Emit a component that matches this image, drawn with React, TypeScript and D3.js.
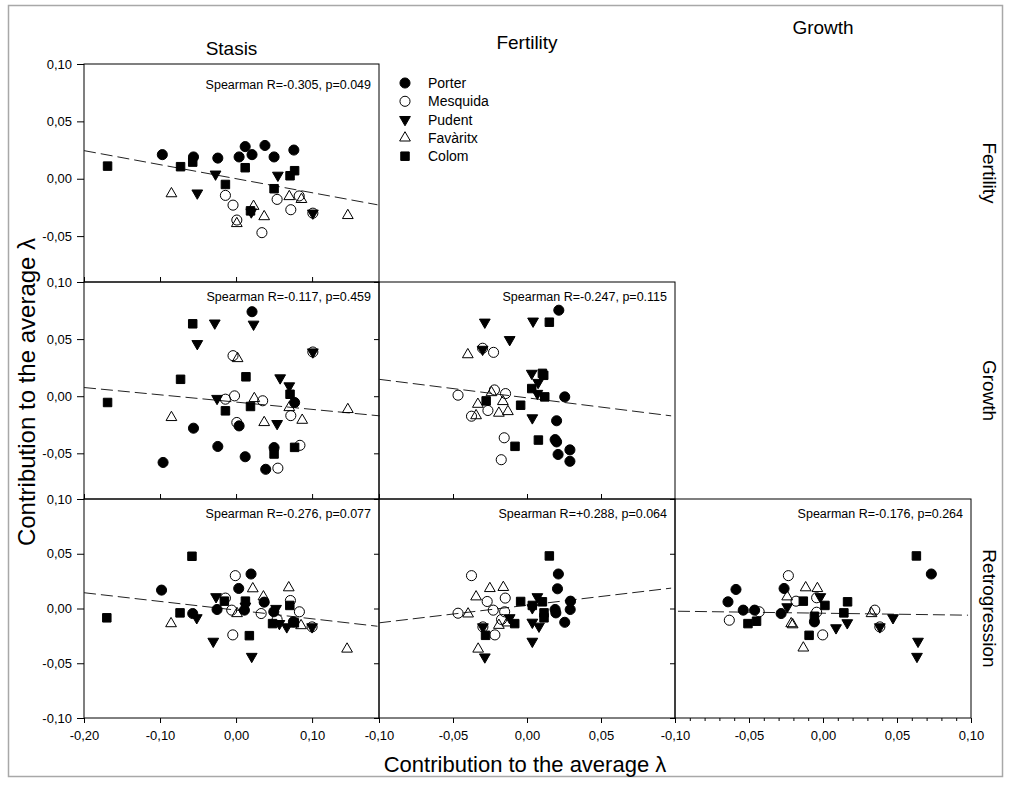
import * as d3 from "d3";
import React, { useRef, useEffect } from "react";

const width = 1009;
const height = 787;
const font = "'Liberation Sans', Arial, Helvetica, sans-serif";

const species = ["Porter", "Mesquida", "Pudent", "Favàritx", "Colom"];
const rowNames = ["Fertility", "Growth", "Retrogression"];
const colNames = ["Stasis", "Fertility", "Growth"];
const axisTitle = "Contribution to the average λ";

// tick values per column (x) and row (y)
const xTicksStasis = [-0.2, -0.1, 0, 0.1];
const xTicksFertility = [-0.1, -0.05, 0, 0.05];
const xTicksGrowth = [-0.1, -0.05, 0, 0.05, 0.1];
const yTicksTop = [0.1, 0.05, 0, -0.05];
const yTicksBottom = [0.1, 0.05, 0, -0.05, -0.1];

// points: [species index, x, y]
const stasisFertility = [
  [0, -0.097, 0.021], [0, -0.056, 0.019], [0, -0.024, 0.018], [0, 0.004, 0.019], [0, 0.012, 0.028],
  [0, 0.021, 0.021], [0, 0.038, 0.029], [0, 0.05, 0.019], [0, 0.076, 0.025],
  [1, -0.014, -0.0145], [1, -0.004, -0.023], [1, 0.001, -0.036], [1, 0.034, -0.047], [1, 0.054, -0.018],
  [1, 0.072, -0.027], [1, 0.083, -0.015], [1, 0.101, -0.03],
  [2, -0.027, 0.004], [2, -0.051, -0.0125], [2, 0.02, -0.029], [2, 0.055, 0.003], [2, 0.101, -0.03],
  [3, -0.085, -0.013], [3, 0.001, -0.039], [3, 0.023, -0.024], [3, 0.037, -0.033], [3, 0.07, -0.0155],
  [3, 0.086, -0.018], [3, 0.147, -0.032],
  [4, -0.169, 0.011], [4, -0.073, 0.0105], [4, -0.057, 0.0145], [4, -0.014, -0.005], [4, 0.012, 0.0096],
  [4, 0.019, -0.028], [4, 0.05, -0.0087], [4, 0.071, 0.0026], [4, 0.077, 0.007],
];

const stasisGrowth = [
  [0, 0.021, 0.074], [0, -0.096, -0.058], [0, -0.056, -0.028], [0, -0.024, -0.044], [0, 0.004, -0.026],
  [0, 0.012, -0.053], [0, 0.039, -0.064], [0, 0.05, -0.045], [0, 0.077, -0.0055],
  [1, -0.004, 0.0355], [1, -0.014, -0.0026], [1, -0.002, 0.0003], [1, 0.001, -0.023], [1, 0.035, -0.004],
  [1, 0.055, -0.063], [1, 0.072, -0.017], [1, 0.084, -0.043], [1, 0.101, 0.0387],
  [2, -0.028, 0.064], [2, -0.051, 0.046], [2, 0.023, 0.063], [2, -0.025, -0.002], [2, 0.058, 0.016],
  [2, 0.07, 0.009], [2, 0.054, -0.024], [2, 0.101, 0.0387],
  [3, -0.085, -0.0186], [3, 0.002, 0.033], [3, 0.024, -0.002], [3, 0.037, -0.023], [3, 0.07, -0.0099],
  [3, 0.087, -0.021], [3, 0.147, -0.0116],
  [4, -0.169, -0.0055], [4, -0.073, 0.0148], [4, -0.057, 0.0634], [4, -0.014, -0.0128], [4, 0.013, 0.017],
  [4, 0.019, -0.009], [4, 0.05, -0.0506], [4, 0.071, 0.0017], [4, 0.077, -0.0448],
];

const fertilityGrowth = [
  [0, 0.0215, 0.0753], [0, 0.0255, -0.0006], [0, 0.02, -0.0215], [0, 0.019, -0.038], [0, 0.02, -0.04],
  [0, 0.021, -0.051], [0, 0.029, -0.047], [0, 0.029, -0.057],
  [1, -0.0466, 0.0009], [1, -0.022, 0.0055], [1, -0.0145, 0.0023], [1, -0.0264, -0.0125], [1, -0.0375, -0.0175],
  [1, -0.0154, -0.0364], [1, -0.0174, -0.0556], [1, -0.0226, 0.0384], [1, -0.03, 0.042],
  [2, -0.0285, 0.0648], [2, 0.0041, 0.0657], [2, -0.0117, 0.0495], [2, -0.03, 0.041], [2, 0.0032, 0.02],
  [2, 0.0075, 0.012], [2, 0.007, 0.0024], [2, 0.0036, -0.019],
  [3, -0.04, 0.0364], [3, -0.0332, -0.007], [3, -0.0344, -0.017], [3, -0.024, 0.0032], [3, -0.0163, -0.0046],
  [3, -0.019, -0.0148], [3, -0.0129, -0.0134],
  [4, 0.0151, 0.0648], [4, 0.0104, 0.02], [4, 0.0113, 0.0183], [4, 0.0032, 0.0067], [4, 0.012, -0.0006],
  [4, -0.0276, -0.0041], [4, -0.0043, -0.0079], [4, 0.0077, -0.0384], [4, -0.0081, -0.0439],
];

const stasisRetrogression = [
  [0, -0.098, 0.0168], [0, -0.057, -0.0046], [0, -0.025, -0.0009], [0, 0.0035, 0.0183], [0, 0.0197, 0.0315],
  [0, 0.011, -0.0015], [0, 0.037, 0.0058], [0, 0.0496, -0.003], [0, 0.0754, -0.0122],
  [1, -0.001, 0.03], [1, -0.014, 0.0095], [1, -0.0057, -0.0015], [1, -0.0043, -0.0241], [1, 0.033, -0.0046],
  [1, 0.054, -0.01], [1, 0.0715, 0.0073], [1, 0.0833, -0.003], [1, 0.1, -0.0168],
  [2, -0.0263, 0.0107], [2, -0.0517, -0.0085], [2, -0.03, -0.03], [2, 0.0206, -0.0438], [2, 0.0123, 0.0021],
  [2, 0.0526, 0], [2, 0.057, -0.0138], [2, 0.0667, -0.0168], [2, 0.1, -0.0168],
  [3, -0.0855, -0.0138], [3, 0.0013, -0.0046], [3, 0.022, 0.0181], [3, 0.036, 0.0107], [3, 0.0693, 0.019],
  [3, 0.0855, -0.0156], [3, 0.146, -0.037],
  [4, -0.17, -0.0085], [4, -0.058, 0.0477], [4, -0.0737, -0.004], [4, -0.0154, 0.0067], [4, 0.0123, 0.0067],
  [4, 0.0175, -0.0248], [4, 0.048, -0.0138], [4, 0.0707, 0.0028], [4, 0.0767, -0.0131],
];

const fertilityRetrogression = [
  [0, 0.0212, 0.0315], [0, 0.0206, 0.018], [0, 0.0294, 0.0067], [0, 0.019, -0.0009], [0, 0.0195, -0.004],
  [0, 0.0292, -0.0009], [0, 0.0255, -0.0126],
  [1, -0.0375, 0.03], [1, -0.0466, -0.0043], [1, -0.0269, 0.0064], [1, -0.0147, 0.0095], [1, -0.0228, -0.0015],
  [1, -0.0151, -0.003], [1, -0.0172, -0.01], [1, -0.0217, -0.0241], [1, -0.0298, -0.0168],
  [2, -0.0285, -0.0443], [2, 0.007, 0.0107], [2, 0.0036, 0.0006], [2, -0.0117, -0.0085], [2, 0.0036, -0.0126],
  [2, 0.0081, -0.0162], [2, 0.0036, -0.03], [2, -0.0298, -0.0168],
  [3, -0.033, -0.037], [3, -0.0344, 0.0107], [3, -0.0398, -0.0049], [3, -0.0251, 0.0183], [3, -0.016, 0.0193],
  [3, -0.019, -0.0153], [3, -0.0133, -0.0131],
  [4, 0.0151, 0.048], [4, -0.0043, 0.0064], [4, 0.0036, 0.0028], [4, 0.0104, 0.0061], [4, 0.0115, -0.004],
  [4, 0.0115, -0.0085], [4, -0.0083, -0.0138], [4, -0.028, -0.0245],
];

const growthRetrogression = [
  [0, -0.0642, 0.0061], [0, -0.0588, 0.0174], [0, -0.0539, -0.0015], [0, -0.0462, -0.0015], [0, -0.0263, 0.0183],
  [0, -0.0283, -0.0046], [0, -0.0058, -0.0122], [0, 0.0732, 0.0315],
  [1, -0.0633, -0.0107], [1, -0.0431, -0.003], [1, -0.0234, 0.03], [1, -0.0182, 0.0067], [1, -0.0043, 0.0098],
  [1, -0.0043, -0.0034], [1, -0.0002, -0.0241], [1, 0.035, -0.0015], [1, 0.0384, -0.0168],
  [2, -0.0242, 0.0015], [2, -0.0018, 0.0107], [2, 0.0088, -0.0177], [2, 0.0164, -0.0131], [2, 0.0473, -0.0085],
  [2, 0.0642, -0.03], [2, 0.0635, -0.0438], [2, 0.0384, -0.0168],
  [3, -0.0242, 0.0107], [3, -0.0215, -0.0138], [3, -0.0205, -0.0148], [3, -0.0117, 0.019], [3, -0.0038, 0.0183],
  [3, -0.0133, -0.036], [3, 0.0328, -0.0046],
  [4, -0.0507, -0.0138], [4, -0.0449, -0.0116], [4, -0.0133, 0.0067], [4, 0.0013, 0.0028], [4, 0.0166, 0.0061],
  [4, 0.0141, -0.004], [4, -0.0094, -0.0245], [4, 0.0631, 0.048], [4, -0.0058, -0.0071],
];

// dashed fit lines: [x0, y0, x1, y1]
const trendStasisFertility = [-0.2, 0.0245, 0.186, -0.0227];
const trendStasisGrowth = [-0.2, 0.0076, 0.189, -0.0172];
const trendFertilityGrowth = [-0.1, 0.0148, 0.0974, -0.0172];
const trendStasisRetrogression = [-0.2, 0.0144, 0.186, -0.0162];
const trendFertilityRetrogression = [-0.1, -0.0131, 0.0974, 0.0186];
const trendGrowthRetrogression = [-0.098, -0.0025, 0.098, -0.0061];

const spearmanLabels = [
  "Spearman R=-0.305, p=0.049",
  "Spearman R=-0.117, p=0.459",
  "Spearman R=-0.247, p=0.115",
  "Spearman R=-0.276, p=0.077",
  "Spearman R=+0.288, p=0.064",
  "Spearman R=-0.176, p=0.264",
];

const locale = d3.formatLocale({ decimal: ",", thousands: ".", grouping: [3], currency: ["", ""], minus: "-" });
const fmt = locale.format(".2f");

const colScales = [
  d3.scaleLinear().domain([-0.2, 0.188]).range([84, 379]),
  d3.scaleLinear().domain([-0.1, 0.1]).range([379, 675]),
  d3.scaleLinear().domain([-0.1, 0.1]).range([675, 971]),
];
const rowScales = [
  d3.scaleLinear().domain([-0.09, 0.1]).range([282, 64]),
  d3.scaleLinear().domain([-0.09, 0.1]).range([499, 282]),
  d3.scaleLinear().domain([-0.1, 0.1]).range([718, 499]),
];
const colTicks = [xTicksStasis, xTicksFertility, xTicksGrowth];
const rowTicks = [yTicksTop, yTicksTop, yTicksBottom];

const panels = [
  { row: 0, col: 0, points: stasisFertility, trend: trendStasisFertility, label: spearmanLabels[0], labelDy: 25 },
  { row: 1, col: 0, points: stasisGrowth, trend: trendStasisGrowth, label: spearmanLabels[1], labelDy: 19 },
  { row: 1, col: 1, points: fertilityGrowth, trend: trendFertilityGrowth, label: spearmanLabels[2], labelDy: 19 },
  { row: 2, col: 0, points: stasisRetrogression, trend: trendStasisRetrogression, label: spearmanLabels[3], labelDy: 19 },
  { row: 2, col: 1, points: fertilityRetrogression, trend: trendFertilityRetrogression, label: spearmanLabels[4], labelDy: 19 },
  { row: 2, col: 2, points: growthRetrogression, trend: trendGrowthRetrogression, label: spearmanLabels[5], labelDy: 19 },
];

const markerPath = (s: number) => {
  if (s === 0 || s === 1) return d3.symbol(d3.symbolCircle, 80)();
  if (s === 2 || s === 3) return d3.symbol(d3.symbolTriangle, 50)();
  return d3.symbol(d3.symbolSquare, 72)();
};
const markerFill = (s: number) => (s === 1 || s === 3 ? "none" : "#000");
const markerRotate = (s: number) => (s === 2 ? " rotate(180)" : "");

function MatrixChart() {
  const ref = useRef<SVGSVGElement>(null);

  useEffect(() => {
    draw();
  }, []); // eslint-disable-line react-hooks/exhaustive-deps

  const draw = () => {
    const svg = d3.select(ref.current);
    svg.selectAll("*").remove();

    svg
      .append("rect")
      .attr("x", 8.5)
      .attr("y", 5.5)
      .attr("width", 994)
      .attr("height", 771)
      .attr("fill", "#fff")
      .attr("stroke", "#a8a8a8")
      .attr("stroke-width", 1.5);

    panels.forEach((p) => {
      const x = colScales[p.col];
      const y = rowScales[p.row];
      const [x0, x1] = x.range();
      const [y1, y0] = y.range();
      const g = svg.append("g");

      // left ticks
      const yAxis = d3
        .axisLeft(y)
        .tickValues(rowTicks[p.row])
        .tickSizeOuter(0)
        .tickSize(p.col === 0 ? 7 : 5)
        .tickPadding(5)
        .tickFormat((d) => (p.col === 0 ? fmt(d as number) : ""));
      const ya = g.append("g").attr("transform", `translate(${x0},0)`).call(yAxis);
      ya.select(".domain").remove();
      ya.selectAll("text").attr("font-size", 13).attr("font-family", font).attr("fill", "#000");

      // bottom ticks
      if (p.row === 2) {
        if (p.col === 2) {
          const minor = d3.range(-0.1, 0.1001, 0.01).map((v) => +v.toFixed(2));
          const ma = g
            .append("g")
            .attr("transform", `translate(0,${y1})`)
            .call(d3.axisBottom(x).tickValues(minor).tickSize(3).tickSizeOuter(0).tickFormat(() => ""));
          ma.select(".domain").remove();
        }
        const xa = g
          .append("g")
          .attr("transform", `translate(0,${y1})`)
          .call(
            d3.axisBottom(x).tickValues(colTicks[p.col]).tickSize(5).tickSizeOuter(0).tickPadding(8).tickFormat((d) => fmt(d as number))
          );
        xa.select(".domain").remove();
        xa.selectAll("text").attr("font-size", 13).attr("font-family", font).attr("fill", "#000");
      } else {
        const xa = g
          .append("g")
          .attr("transform", `translate(0,${y1})`)
          .call(d3.axisBottom(x).tickValues(colTicks[p.col]).tickSize(-5).tickSizeOuter(0).tickFormat(() => ""));
        xa.select(".domain").remove();
      }

      g.append("rect")
        .attr("x", x0)
        .attr("y", y0)
        .attr("width", x1 - x0)
        .attr("height", y1 - y0)
        .attr("fill", "none")
        .attr("stroke", "#000")
        .attr("stroke-width", 1);

      g.append("line")
        .attr("x1", x(p.trend[0]))
        .attr("y1", y(p.trend[1]))
        .attr("x2", x(p.trend[2]))
        .attr("y2", y(p.trend[3]))
        .attr("stroke", "#222")
        .attr("stroke-width", 1)
        .attr("stroke-dasharray", "12,5");

      g.selectAll(".pt")
        .data(p.points)
        .join("path")
        .classed("pt", true)
        .attr("transform", (d) => `translate(${x(d[1])},${y(d[2])})${markerRotate(d[0])}`)
        .attr("d", (d) => markerPath(d[0]))
        .attr("fill", (d) => markerFill(d[0]))
        .attr("stroke", "#000")
        .attr("stroke-width", 1);

      g.append("text")
        .attr("x", x1 - 8)
        .attr("y", y0 + p.labelDy)
        .attr("text-anchor", "end")
        .attr("font-family", font)
        .attr("font-size", 12.5)
        .text(p.label);
    });

    // column titles
    const colTitleY = [55, 49, 34];
    colNames.forEach((name, i) => {
      const r = colScales[i].range();
      svg
        .append("text")
        .attr("x", (r[0] + r[1]) / 2)
        .attr("y", colTitleY[i])
        .attr("text-anchor", "middle")
        .attr("font-family", font)
        .attr("font-size", 19)
        .text(name);
    });

    // row titles
    rowNames.forEach((name, i) => {
      const r = rowScales[i].range();
      svg
        .append("text")
        .attr("transform", `translate(990,${(r[0] + r[1]) / 2}) rotate(90)`)
        .attr("dy", "0.35em")
        .attr("text-anchor", "middle")
        .attr("font-family", font)
        .attr("font-size", 19)
        .text(name);
    });

    // axis titles
    svg
      .append("text")
      .attr("transform", "translate(27,392) rotate(-90)")
      .attr("dy", "0.35em")
      .attr("text-anchor", "middle")
      .attr("font-family", font)
      .attr("font-size", 24)
      .text(axisTitle);

    svg
      .append("text")
      .attr("x", 525)
      .attr("y", 772)
      .attr("text-anchor", "middle")
      .attr("font-family", font)
      .attr("font-size", 22)
      .text(axisTitle);

    // legend
    const legend = svg.append("g").attr("transform", "translate(405,83)");
    const items = legend
      .selectAll(".item")
      .data(species)
      .join("g")
      .classed("item", true)
      .attr("transform", (d, i) => `translate(0,${i * 18.3})`);
    items
      .append("path")
      .attr("transform", (d, i) => markerRotate(i))
      .attr("d", (d, i) => markerPath(i))
      .attr("fill", (d, i) => markerFill(i))
      .attr("stroke", "#000");
    items
      .append("text")
      .attr("x", 23)
      .attr("dy", "0.35em")
      .attr("font-family", font)
      .attr("font-size", 14)
      .text((d) => d);
  };

  return (
    <svg
      ref={ref}
      width={width}
      height={height}
      style={{ position: "absolute", left: 0, top: 0, background: "#fff" }}
    ></svg>
  );
}

export default function App() {
  return <MatrixChart />;
}
